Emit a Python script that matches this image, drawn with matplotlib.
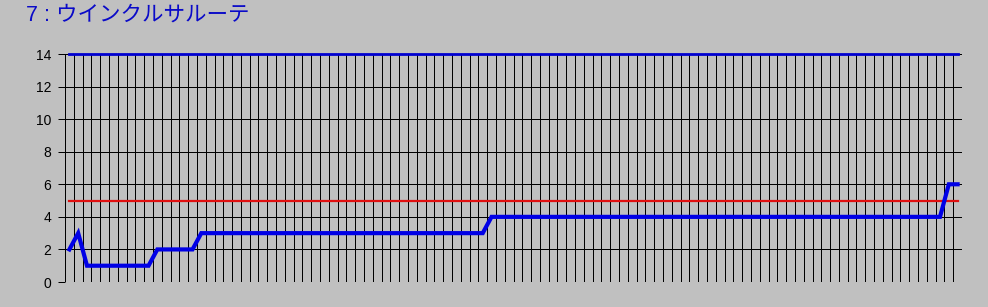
import numpy as np
import matplotlib
matplotlib.use("Agg")
import matplotlib.pyplot as plt

plt.rcParams['font.family'] = ['Liberation Sans', 'Noto Sans CJK JP', 'DejaVu Sans']

title = "7 : ウインクルサルーテ"

# one value per race
values = [2, 3, 1, 1, 1, 1, 1, 1, 1, 1,
          2, 2, 2, 2, 2, 3, 3, 3, 3, 3,
          3, 3, 3, 3, 3, 3, 3, 3, 3, 3,
          3, 3, 3, 3, 3, 3, 3, 3, 3, 3,
          3, 3, 3, 3, 3, 3, 3, 3, 4, 4,
          4, 4, 4, 4, 4, 4, 4, 4, 4, 4,
          4, 4, 4, 4, 4, 4, 4, 4, 4, 4,
          4, 4, 4, 4, 4, 4, 4, 4, 4, 4,
          4, 4, 4, 4, 4, 4, 4, 4, 4, 4,
          4, 4, 4, 4, 4, 4, 4, 4, 4, 4,
          6, 6]
upper_level = 14
ref_level = 5
yticks = [0, 2, 4, 6, 8, 10, 12, 14]

bg = '#C0C0C0'
n = len(values)
x = np.arange(n)

fig = plt.figure(figsize=(9.88, 3.07), dpi=100, facecolor=bg)
ax = fig.add_axes([65/988, 1-282/307, (962-65)/988, (282-54)/307])
ax.set_facecolor(bg)

# grid: one vertical line at every category edge, horizontal at the y ticks
for xe in np.arange(n + 1) - 0.5:
    ax.axvline(xe, color='black', lw=0.72, zorder=1, snap=True)
for yv in yticks:
    ax.axhline(yv, color='black', lw=0.72, zorder=1, snap=True)

ax.plot(x, [upper_level]*n, color='#0000D0', lw=2.0, zorder=3, clip_on=False)
ax.plot(x, [ref_level]*n, color='#E01010', lw=1.6, zorder=3)
ax.plot(x, values, color='#0000E6', lw=3.0, zorder=4, solid_joinstyle='miter')

ax.set_xlim(-0.5, n - 0.5)
ax.set_ylim(0, 14)
ax.set_yticks(yticks)
ax.set_yticklabels([str(v) for v in yticks], fontsize=10)
ax.set_xticks([])
ax.tick_params(axis='y', length=5, width=0.72, pad=5, color='black')
for s in ax.spines.values():
    s.set_visible(False)

fig.text(26/988, 1-15/307, title, color='#0A0AC8', fontsize=15.5,
         ha='left', va='center')

fig.savefig('out.png', dpi=100, facecolor=bg)
